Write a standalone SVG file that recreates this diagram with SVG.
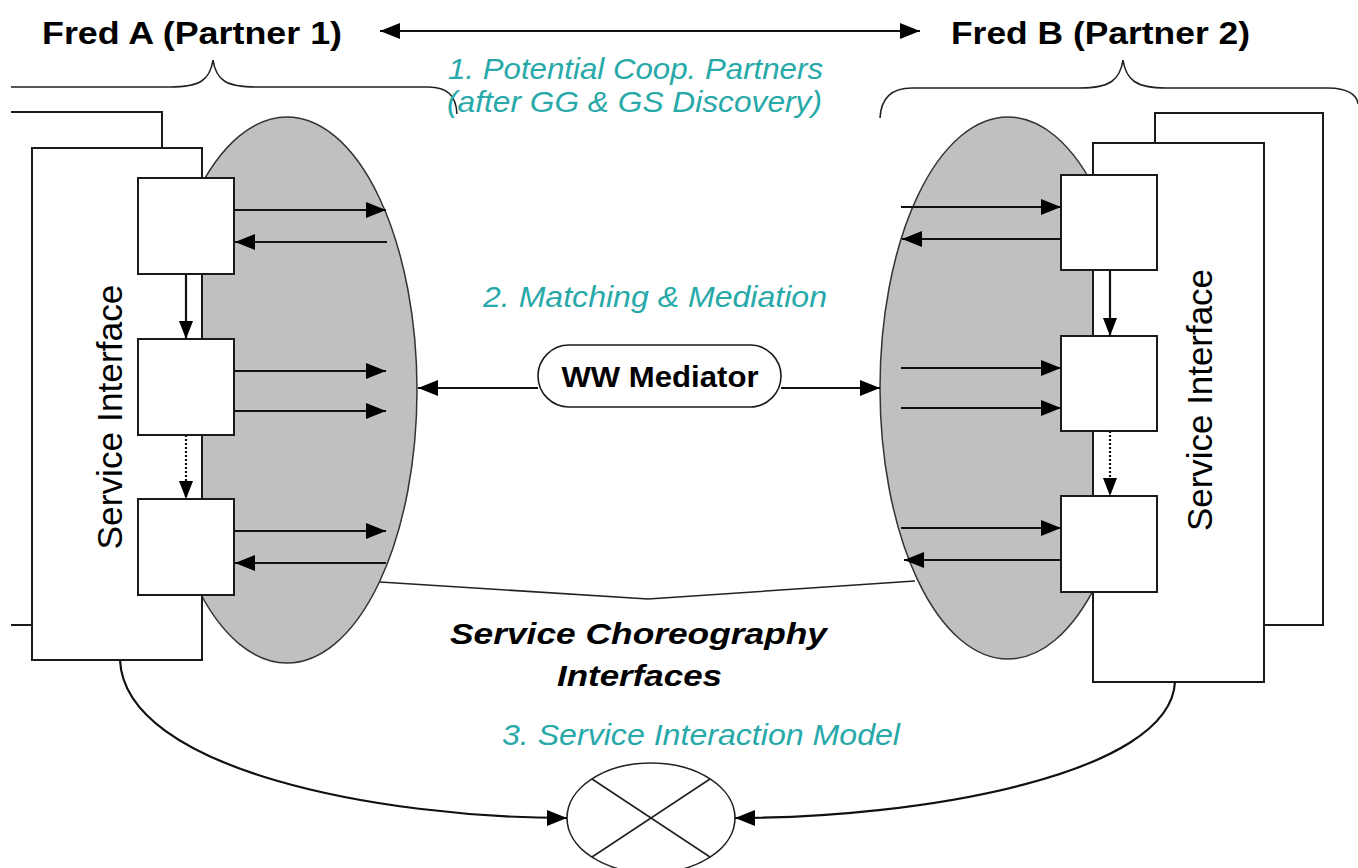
<svg xmlns="http://www.w3.org/2000/svg" width="1358" height="868" viewBox="0 0 1358 868">
<style>
.bg{fill:#ffffff}
.box{fill:#ffffff;stroke:#1a1a1a;stroke-width:2}
.frame{fill:none;stroke:#1a1a1a;stroke-width:2}
.oval{fill:#c0c0c0;stroke:#333;stroke-width:1.5}
.ln{fill:none;stroke:#111;stroke-width:2.2}
.thin{fill:none;stroke:#222;stroke-width:1.6}
.dot{fill:none;stroke:#111;stroke-width:2.2;stroke-dasharray:2 2}
.title{font-family:"Liberation Sans",Arial,sans-serif;font-weight:bold;font-size:32px;fill:#000}
.si{font-family:"Liberation Sans",Arial,sans-serif;font-size:35px;fill:#000}
.teal{font-family:"Liberation Sans",Arial,sans-serif;font-style:italic;font-size:29px;fill:#27a9a9}
.choreo{font-family:"Liberation Sans",Arial,sans-serif;font-style:italic;font-weight:bold;font-size:30px;fill:#000}
.med{font-family:"Liberation Sans",Arial,sans-serif;font-weight:bold;font-size:30px;fill:#000}
</style>
<defs>
<marker id="ah" viewBox="0 0 20 16" refX="20" refY="8" markerWidth="20" markerHeight="16" markerUnits="userSpaceOnUse" orient="auto-start-reverse">
<path d="M0,0 L20,8 L0,16 Z" fill="#000"/>
</marker>
<marker id="ahs" viewBox="0 0 18 14" refX="18" refY="7" markerWidth="18" markerHeight="14" markerUnits="userSpaceOnUse" orient="auto">
<path d="M0,0 L18,7 L0,14 Z" fill="#000"/>
</marker>
</defs>
<rect class="bg" x="0" y="0" width="1358" height="868"/>

<g id="titles">
<text class="title" x="42" y="44" textLength="300" lengthAdjust="spacingAndGlyphs">Fred A (Partner 1)</text>
<text class="title" x="951" y="44" textLength="299" lengthAdjust="spacingAndGlyphs">Fred B (Partner 2)</text>
</g>

<g id="braces">
<path class="thin" d="M11,87 L170,87 C200,87 210,80 213,60 C216,80 226,87 256,87 L428,87 C448,87 456,96 457,114"/>
<path class="thin" d="M880,118 C881,98 892,88 912,88 L1080,88 C1110,88 1120,80 1123,60 C1126,80 1136,88 1166,88 L1328,88 C1348,88 1357,95 1358,104"/>
</g>

<g id="partnerA">
<path class="frame" d="M11,112 L162,112 L162,148"/>
<path class="frame" d="M11,625 L32,625"/>
<ellipse class="oval" cx="287" cy="390" rx="130" ry="273"/>
<rect class="box" x="32" y="148" width="170" height="512"/>
<text class="si" transform="translate(122,417) rotate(-90)" text-anchor="middle" textLength="265" lengthAdjust="spacingAndGlyphs">Service Interface</text>
<rect id="a1" class="box" x="138" y="178" width="96" height="96"/>
<rect id="a2" class="box" x="138" y="339" width="96" height="96"/>
<rect id="a3" class="box" x="138" y="499" width="96" height="96"/>
</g>

<g id="partnerB">
<rect class="box" x="1155" y="113" width="168" height="512"/>
<ellipse class="oval" cx="1008" cy="388" rx="128" ry="271"/>
<rect class="box" x="1093" y="143" width="171" height="539"/>
<text class="si" transform="translate(1212,400) rotate(-90)" text-anchor="middle" textLength="262" lengthAdjust="spacingAndGlyphs">Service Interface</text>
<rect id="b1" class="box" x="1061" y="175" width="96" height="95"/>
<rect id="b2" class="box" x="1061" y="336" width="96" height="95"/>
<rect id="b3" class="box" x="1061" y="496" width="96" height="96"/>
</g>

<g id="mediator">
<rect class="box" x="538" y="345" width="243" height="62" rx="31" ry="31" style="stroke-width:1.6"/>
<text class="med" x="660" y="387" text-anchor="middle" textLength="197" lengthAdjust="spacingAndGlyphs">WW Mediator</text>
</g>

<g id="interaction-model">
<ellipse class="thin" cx="651" cy="818" rx="84" ry="55" style="fill:#fff"/>
<path class="thin" d="M592,779 L710,857 M710,779 L592,857"/>
</g>

<g id="labels">
<text class="teal" x="448" y="79" textLength="375" lengthAdjust="spacingAndGlyphs">1. Potential Coop. Partners</text>
<text class="teal" x="447" y="112" textLength="375" lengthAdjust="spacingAndGlyphs">(after GG &amp; GS Discovery)</text>
<text class="teal" x="483" y="307" textLength="344" lengthAdjust="spacingAndGlyphs">2. Matching &amp; Mediation</text>
<text class="teal" x="502" y="745" textLength="398" lengthAdjust="spacingAndGlyphs">3. Service Interaction Model</text>
<text class="choreo" x="450" y="644" textLength="377" lengthAdjust="spacingAndGlyphs">Service Choreography</text>
<text class="choreo" x="557" y="686" textLength="165" lengthAdjust="spacingAndGlyphs">Interfaces</text>
</g>

<g id="connectors">
<line class="ln" x1="380" y1="31" x2="920" y2="31" marker-start="url(#ah)" marker-end="url(#ah)"/>
<path class="thin" d="M380,582 L648,599 L915,581"/>
<!-- left side -->
<line class="ln" x1="234" y1="210" x2="386" y2="210" marker-end="url(#ah)"/>
<line class="ln" x1="387" y1="242" x2="235" y2="242" marker-end="url(#ah)"/>
<line class="ln" x1="234" y1="371" x2="386" y2="371" marker-end="url(#ah)"/>
<line class="ln" x1="234" y1="411" x2="386" y2="411" marker-end="url(#ah)"/>
<line class="ln" x1="234" y1="531" x2="386" y2="531" marker-end="url(#ah)"/>
<line class="ln" x1="386" y1="563" x2="235" y2="563" marker-end="url(#ah)"/>
<line class="ln" x1="186" y1="274" x2="186" y2="339" marker-end="url(#ahs)"/>
<line class="dot" x1="186" y1="435" x2="186" y2="499" marker-end="url(#ahs)"/>
<!-- right side -->
<line class="ln" x1="901" y1="207" x2="1061" y2="207" marker-end="url(#ah)"/>
<line class="ln" x1="1061" y1="239" x2="902" y2="239" marker-end="url(#ah)"/>
<line class="ln" x1="901" y1="368" x2="1061" y2="368" marker-end="url(#ah)"/>
<line class="ln" x1="901" y1="408" x2="1061" y2="408" marker-end="url(#ah)"/>
<line class="ln" x1="901" y1="528" x2="1061" y2="528" marker-end="url(#ah)"/>
<line class="ln" x1="1061" y1="560" x2="904" y2="560" marker-end="url(#ah)"/>
<line class="ln" x1="1110" y1="270" x2="1110" y2="336" marker-end="url(#ahs)"/>
<line class="dot" x1="1110" y1="431" x2="1110" y2="496" marker-end="url(#ahs)"/>
<!-- mediator -->
<line class="ln" x1="538" y1="388" x2="418" y2="388" marker-end="url(#ah)"/>
<line class="ln" x1="781" y1="388" x2="880" y2="388" marker-end="url(#ah)"/>
<!-- interaction model -->
<path class="ln" d="M120,660 C125,770 380,818 567,818" marker-end="url(#ah)"/>
<path class="ln" d="M1175,682 C1170,775 920,818 735,818" marker-end="url(#ah)"/>
</g>
</svg>
